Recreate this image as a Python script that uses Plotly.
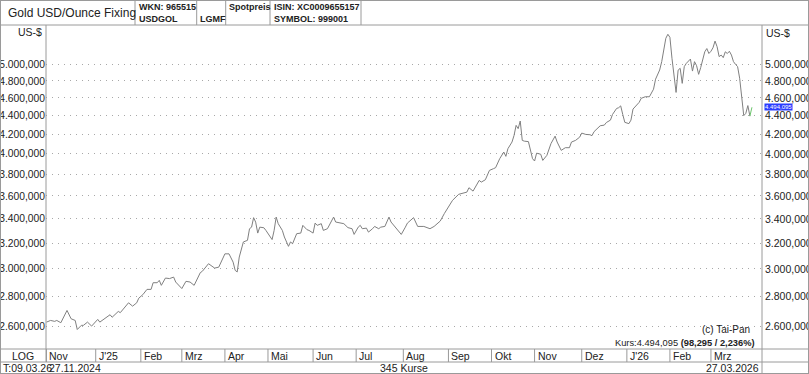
import math
import plotly.graph_objects as go

# ---------------- data ----------------
day = [0, 2, 4, 5, 7, 10, 12, 14, 15, 17, 18, 20, 22, 23, 25, 26, 28, 31, 32, 35, 36, 39, 40, 42, 44, 45, 47, 49,
       51, 52, 54, 55, 56, 58, 60, 62, 63, 66, 68, 70, 72, 75, 76, 79, 82, 84, 86, 87, 89, 91, 92, 93, 94, 96, 98,
       99, 100, 101, 102, 103, 104, 106, 107, 110, 111, 112, 113, 115, 116, 118, 119, 120, 122, 124, 125, 127, 128,
       130, 131, 132, 134, 135, 137, 140, 141, 143, 145, 147, 149, 150, 152, 153, 154, 156, 157, 159, 160, 162, 163,
       165, 167, 168, 170, 171, 173, 175, 176, 179, 181, 184, 187, 189, 192, 194, 197, 198, 201, 203, 205, 206, 208,
       211, 212, 214, 216, 218, 219, 221, 223, 224, 225, 227, 228, 229, 230, 231, 232, 233, 235, 237, 238, 239, 241,
       242, 244, 246, 248, 249, 251, 253, 255, 256, 258, 260, 261, 263, 265, 266, 267, 270, 272, 273, 275, 276, 278,
       279, 280, 281, 282, 284, 285, 286, 287, 289, 290, 292, 294, 296, 297, 299, 300, 302, 303, 304, 305, 306, 307,
       308, 309, 310, 311, 312, 313, 314, 315, 316, 317, 318, 319, 320, 321, 322, 323, 324, 325, 326, 327, 328, 329,
       330, 331, 332, 333, 334, 335, 336, 337, 338, 339, 340, 341, 342, 343, 344]
price = [2626, 2637, 2631, 2637, 2622, 2704, 2648, 2637, 2578, 2605, 2605, 2626, 2600, 2616, 2644, 2626, 2644, 2675,
         2658, 2697, 2689, 2742, 2756, 2733, 2756, 2788, 2813, 2850, 2850, 2898, 2898, 2915, 2879, 2932, 2928, 2939,
         2903, 2856, 2908, 2903, 2879, 2972, 2982, 3039, 3006, 3013, 3077, 3115, 3115, 3051, 2989, 2977, 3090, 3209,
         3222, 3317, 3330, 3410, 3372, 3281, 3330, 3325, 3303, 3228, 3303, 3415, 3359, 3303, 3249, 3174, 3209, 3195,
         3276, 3281, 3345, 3309, 3303, 3281, 3364, 3345, 3359, 3303, 3317, 3415, 3373, 3364, 3359, 3326, 3317, 3270,
         3330, 3345, 3317, 3322, 3289, 3317, 3336, 3317, 3330, 3336, 3415, 3373, 3330, 3309, 3270, 3330, 3364, 3410,
         3336, 3336, 3317, 3336, 3381, 3445, 3527, 3561, 3615, 3626, 3635, 3675, 3644, 3743, 3727, 3749, 3838, 3855,
         3864, 3952, 4018, 3975, 4052, 4120, 4189, 4295, 4260, 4342, 4137, 4129, 4124, 3952, 3929, 4007, 3996, 3935,
         3985, 4104, 4181, 4120, 4035, 4062, 4062, 4120, 4137, 4171, 4213, 4199, 4196, 4186, 4228, 4291, 4298, 4326,
         4352, 4414, 4481, 4489, 4510, 4414, 4328, 4314, 4352, 4474, 4496, 4550, 4596, 4614, 4614, 4702, 4821, 4933,
         5038, 5340, 5394, 5353, 5080, 4833, 4664, 4931, 4954, 4771, 4975, 5016, 5037, 5070, 4920, 5037, 4987, 4880,
         4962, 5070, 5163, 5205, 5141, 5170, 5215, 5303, 5229, 5101, 5121, 5088, 5163, 5141, 5170, 5121, 5037, 5003,
         4975, 4833, 4634, 4401, 4426, 4513, 4395.8, 4494.095]

month_start = [0, 24, 46, 66, 87, 108, 130, 151, 174, 196, 217, 238, 261, 283, 304, 324]
month_labels = ["Nov", "J'25", "Feb", "Mrz", "Apr", "Mai", "Jun", "Jul", "Aug", "Sep", "Okt", "Nov", "Dez",
                "J'26", "Feb", "Mrz"]
y_ticks = [2600, 2800, 3000, 3200, 3400, 3600, 3800, 4000, 4200, 4400, 4600, 4800, 5000]
last_price = 4494.095
change_abs = 98.295
change_pct = 2.236
n_quotes = 345
first_date = "27.11.2024"
last_date = "27.03.2026"
time_stamp = "T:09.03.26"

# ---------------- helpers ----------------
W, H = 809, 374
L, R, T, B = 46, 762, 25, 349
PW, PH = R - L, B - T
X_RANGE = [-0.24, 348.9]
Y_RANGE = [3.3901, 3.7420]  # log10 of approx 2455 .. 5521


def px(x):
    return (x - L) / PW


def py(y):
    return (B - y) / PH


def de(v, d=3):
    s = f"{v:,.{d}f}"
    return s.replace(",", "X").replace(".", ",").replace("X", ".")


FONT = "Liberation Sans, Arial, sans-serif"
GRID = "#a8a8a8"
BORDER = "#9a9a9a"
TXT = "#222222"

fig = go.Figure()
fig.add_trace(go.Scatter(x=day[:-1], y=price[:-1], mode="lines",
                         line=dict(color="#808080", width=1), hoverinfo="skip", showlegend=False))
fig.add_trace(go.Scatter(x=day[-2:], y=price[-2:], mode="lines",
                         line=dict(color="#6cc46c", width=1), hoverinfo="skip", showlegend=False))
fig.add_trace(go.Scatter(x=[day[-1]], y=[price[-1]], mode="markers", marker=dict(opacity=0),
                         yaxis="y2", hoverinfo="skip", showlegend=False))

ticktext = [de(v) for v in y_ticks]
fig.update_layout(
    width=W, height=H,
    margin=dict(l=L, r=W - R, t=T, b=H - B, autoexpand=False),
    paper_bgcolor="white", plot_bgcolor="white",
    font=dict(family=FONT, size=11, color=TXT),
    xaxis=dict(range=X_RANGE, showgrid=False, showticklabels=False, zeroline=False, showline=False,
               ticks="", automargin=False, fixedrange=True),
    yaxis=dict(type="log", range=Y_RANGE, tickvals=y_ticks, ticktext=ticktext, showgrid=True,
               gridcolor=GRID, griddash="1px,5px", gridwidth=1, zeroline=False, showline=False, ticks="",
               automargin=False, fixedrange=True, ticklabelstandoff=0,
               tickfont=dict(size=10.3, color=TXT, family=FONT)),
    yaxis2=dict(type="log", range=Y_RANGE, tickvals=y_ticks, ticktext=ticktext, overlaying="y",
                side="right", showgrid=False, zeroline=False, showline=False, ticks="",
                automargin=False, fixedrange=True, ticklabelstandoff=2,
                tickfont=dict(size=10.5, color=TXT, family=FONT)),
)

shapes = []


def hline(y, x0=0, x1=W - 1, color=BORDER, width=1):
    shapes.append(dict(type="line", xref="paper", yref="paper", x0=px(x0), x1=px(x1), y0=py(y), y1=py(y),
                       line=dict(color=color, width=width)))


def vline(x, y0, y1, color=BORDER, width=1):
    shapes.append(dict(type="line", xref="paper", yref="paper", x0=px(x), x1=px(x), y0=py(y0), y1=py(y1),
                       line=dict(color=color, width=width)))


# outer frame
hline(0.5); hline(373.5)
vline(0.5, 0, 374); vline(808.5, 0, 374)
# header
hline(T)
for xv in [135, 196.7, 225.7, 270, 361]:
    vline(xv, 0, T)
# plot borders and footer rows
vline(L, T, 362)
vline(R, T, 374)
hline(B)
hline(362)
# month separators in the footer (data coords)
for d in month_start:
    shapes.append(dict(type="line", xref="x", yref="paper", x0=d, x1=d, y0=py(B), y1=py(362),
                       line=dict(color=BORDER, width=1)))
fig.update_layout(shapes=shapes)

ann = []


def text(x, y, s, xanchor="left", size=11, bold=False, color=TXT, xref="paper", **kw):
    ann.append(dict(xref=xref, yref="paper", x=px(x) if xref == "paper" else x, y=py(y),
                    text=f"<b>{s}</b>" if bold else s, showarrow=False, xanchor=xanchor, yanchor="middle",
                    font=dict(size=size, color=color, family=FONT), **kw))


# header texts
text(6, 13, "Gold USD/Ounce Fixing", size=12)
text(136.5, 6.5, "WKN: 965515", size=9, bold=True)
text(136.5, 18.5, "USDGOL", size=9, bold=True)
text(197.5, 18.5, "LGMF", size=9, bold=True)
text(227, 6.5, "Spotpreis", size=9, bold=True)
text(271.5, 6.5, "ISIN: XC0009655157", size=9, bold=True)
text(271.5, 18.5, "SYMBOL: 999001", size=9, bold=True)
# unit labels
text(44, 32, "US-$", xanchor="right", size=10.5)
text(764, 33, "US-$", size=10.5)
# in-plot texts
text(752, 329, "(c) Tai-Pan", xanchor="right", size=10)
text(757, 343, f"Kurs:{de(last_price)} <b>({de(change_abs)} / {de(change_pct)}%)</b>", xanchor="right",
     size=9.3)
# footer
text(23, 355.5, "LOG", xanchor="center", size=10.5)
for d, lab in zip(month_start, month_labels):
    ann.append(dict(xref="x", yref="paper", x=d, y=py(355.5), text=lab, showarrow=False, xanchor="left",
                    yanchor="middle", xshift=1, font=dict(size=10.5, color=TXT, family=FONT)))
text(0.5, 368, time_stamp, size=10.5)
text(47, 368, first_date, size=10.5)
text((L + R) / 2, 368, f"{n_quotes} Kurse", xanchor="center", size=10.5)
text(761, 368, last_date, xanchor="right", size=10.5)
# last value tag on right axis
ann.append(dict(xref="paper", yref="y2", x=px(764), y=math.log10(last_price),
                text=de(last_price), showarrow=False, xanchor="left", yanchor="middle",
                bgcolor="#2b3cff", borderpad=0, font=dict(size=6, color="white", family=FONT)))
fig.update_layout(annotations=ann)

fig.write_html("out.html", config={"displayModeBar": False, "staticPlot": True},
               post_script="document.body.style.margin='0';document.body.style.overflow='hidden';")
